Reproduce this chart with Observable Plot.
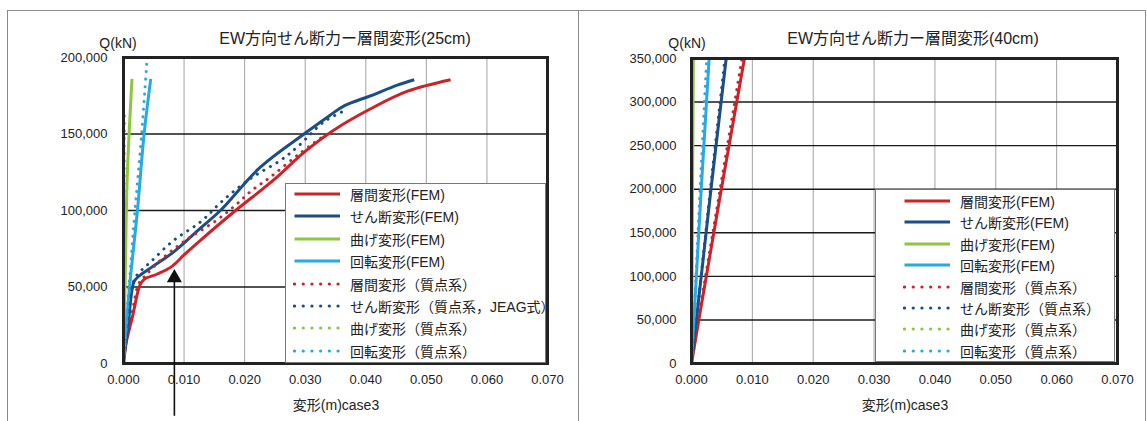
<!DOCTYPE html>
<html><head><meta charset="utf-8">
<script src="https://cdn.jsdelivr.net/npm/d3@7"></script>
<script src="https://cdn.jsdelivr.net/npm/@observablehq/plot@0.6"></script>
<style>
body{margin:0;background:#fff;}
#root{position:relative;width:1147px;height:421px;overflow:hidden;font-family:"Liberation Sans","Noto Sans CJK JP",sans-serif;color:#222;background:#fff;}
.abs{position:absolute;}
.t{position:absolute;transform:translate(-50%,-50%);white-space:nowrap;}
.legend{position:absolute;background:#fff;border:1px solid #777;box-sizing:border-box;}
.row{position:absolute;left:0;display:flex;align-items:center;white-space:nowrap;font-size:14px;}
</style></head><body><div id="root"></div>
<script>
// ---------- data ----------
const seriesNames25 = ["層間変形(FEM)","せん断変形(FEM)","曲げ変形(FEM)","回転変形(FEM)","層間変形（質点系）","せん断変形（質点系，JEAG式）","曲げ変形（質点系）","回転変形（質点系）"];
const seriesNames40 = ["層間変形(FEM)","せん断変形(FEM)","曲げ変形(FEM)","回転変形(FEM)","層間変形（質点系）","せん断変形（質点系）","曲げ変形（質点系）","回転変形（質点系）"];
const seriesColors = ["#cc2229","#1b4e86","#8dc63f","#29a9e1","#cc2229","#1b4e86","#8dc63f","#29a9e1"];
const seriesDotted = [false,false,false,false,true,true,true,true];

const xTicks = [0,0.01,0.02,0.03,0.04,0.05,0.06,0.07];
const yTicks25 = [0,50000,100000,150000,200000];
const yTicks40 = [0,50000,100000,150000,200000,250000,300000,350000];

// 25cm case  [deformation m, Q kN]
const story25FEM = [[0,0],[0.0003,11000],[0.0015,31000],[0.0027,51000],[0.0034,55000],[0.0056,58500],[0.0080,63500],[0.0100,71000],[0.0127,80500],[0.0182,99000],[0.0248,120000],[0.0298,138000],[0.0347,152500],[0.0408,166500],[0.0469,178000],[0.0540,185500]];
const shear25FEM = [[0,0],[0.0008,26000],[0.0014,48000],[0.0018,54000],[0.0030,58500],[0.0045,62500],[0.0083,73000],[0.0127,88500],[0.0160,100000],[0.0225,128000],[0.0298,150000],[0.0340,162000],[0.0365,168500],[0.0408,175000],[0.0452,182000],[0.0480,185500]];
const bend25FEM = [[0,0],[0.0003,60000],[0.0006,120000],[0.0014,186000]];
const rot25FEM = [[0,0],[0.0010,50000],[0.0023,100000],[0.0034,150000],[0.0045,186000]];
const story25Mass = [[0,0],[0.0005,15000],[0.0015,35000],[0.0025,52000],[0.0035,57000],[0.0061,67500],[0.0099,79500],[0.0155,94000],[0.0185,103500],[0.0210,112500],[0.0243,122000],[0.0290,137000],[0.0330,148500]];
const shear25Mass = [[0,0],[0.0005,18000],[0.0012,45000],[0.0020,56500],[0.0045,66500],[0.0083,80500],[0.0127,92500],[0.0164,106500],[0.0210,121000],[0.0260,133000],[0.0287,141500],[0.0331,158000],[0.0364,165000]];
const bend25Mass = [[0,0],[0.0002,165000]];
const rot25Mass = [[0,0],[0.0009,50000],[0.0019,100000],[0.0030,150000],[0.0039,200000]];

// 40cm case
const story40FEM = [[0,0],[0.0012,50000],[0.0049,200000],[0.0087,350000]];
const shear40FEM = [[0,0],[0.0008,50000],[0.0032,200000],[0.0057,350000]];
const bend40FEM = [[0,0],[0.0003,350000]];
const rot40FEM = [[0,0],[0.0004,50000],[0.0016,200000],[0.0029,350000]];
const story40Mass = [[0,0],[0.0011,50000],[0.0047,200000],[0.0083,350000]];
const shear40Mass = [[0,0],[0.0008,50000],[0.0031,200000],[0.0055,350000]];
const bend40Mass = [[0,0],[0.0002,350000]];
const rot40Mass = [[0,0],[0.0004,50000],[0.0014,200000],[0.0025,350000]];

// annotation arrow (25cm chart)
const arrowX = 0.0084;
const arrowTail = -34500;
const arrowHead = 56000;

// ---------- drawing ----------
const root = document.getElementById("root");
const FONT = '"Liberation Sans","Noto Sans CJK JP",sans-serif';

function seriesMarks(list, curve){
  return list.map((data,i)=>Plot.line(data,{x:d=>d[0],y:d=>d[1],stroke:seriesColors[i],strokeWidth:3,
      strokeDasharray: seriesDotted[i] ? "0.1 7.4" : null,
      strokeLinecap: seriesDotted[i] ? "round" : "butt", curve}));
}

function makeChart(o){
  const chart = Plot.plot({
    width:o.width, height:421,
    marginLeft:o.ml, marginRight:o.mr, marginTop:o.mt, marginBottom:421-o.bottom,
    x:{domain:[0,0.07]},
    y:{domain:o.ydomain},
    style:{fontSize:"13px",fontFamily:FONT,background:"transparent",overflow:"visible",color:"#222"},
    marks:[
      Plot.gridX(xTicks,{stroke:"#a3a3a3",strokeOpacity:1,strokeWidth:1}),
      Plot.gridY(o.yticks,{stroke:"#1a1a1a",strokeOpacity:1,strokeWidth:1.4}),
      Plot.axisX(xTicks,{tickSize:0,tickPadding:11,tickFormat:d3.format(".3f"),label:null,fontSize:13}),
      Plot.axisY(o.yticks,{tickSize:0,tickPadding:o.ypad,tickFormat:d3.format(","),label:null,fontSize:13}),
      ...seriesMarks(o.series, o.curve),
      Plot.frame({stroke:"#222",strokeWidth:3}),
      ...(o.extra||[])
    ]
  });
  chart.style.position="absolute";
  chart.style.left=o.left+"px";
  chart.style.top="0px";
  root.appendChild(chart);
}

function text(s,x,y,size){
  const d=document.createElement("div");
  d.className="t"; d.textContent=s;
  d.style.left=x+"px"; d.style.top=y+"px"; d.style.fontSize=size+"px";
  root.appendChild(d);
}

function legend(names,box){
  const L=document.createElement("div");
  L.className="legend";
  L.style.left=box.x+"px"; L.style.top=box.y+"px";
  L.style.width=box.w+"px"; L.style.height=box.h+"px";
  names.forEach((n,i)=>{
    const r=document.createElement("div");
    r.className="row";
    r.style.top=(box.first+i*box.step-11)+"px";
    r.style.height="22px";
    r.style.left=box.sx+"px";
    const svg=d3.create("svg").attr("width",box.sw+5).attr("height",10).style("margin-right","5px");
    svg.append("line").attr("x1",1.5).attr("x2",box.sw).attr("y1",5).attr("y2",5)
      .attr("stroke",seriesColors[i]).attr("stroke-width",3.2)
      .attr("stroke-dasharray",seriesDotted[i]?"0.1 8.6":null)
      .attr("stroke-linecap",seriesDotted[i]?"round":"butt");
    r.appendChild(svg.node());
    const s=document.createElement("span"); s.textContent=n; r.appendChild(s);
    L.appendChild(r);
  });
  root.appendChild(L);
}

// outer frames
const f1=document.createElement("div");
f1.className="abs"; f1.style.cssText+="left:7px;top:10px;width:570px;height:411px;border-left:1px solid #8a8a8a;border-top:1px solid #8a8a8a;border-right:1px solid #8a8a8a;";
root.appendChild(f1);
const f2=document.createElement("div");
f2.className="abs"; f2.style.cssText+="left:577px;top:10px;width:568px;height:411px;border-top:1px solid #8a8a8a;border-right:1px solid #8a8a8a;";
root.appendChild(f2);

makeChart({left:0,width:577,ml:123,mr:30,mt:57,bottom:363,ydomain:[0,200000],yticks:yTicks25,ypad:16,curve:"catmull-rom",
  series:[story25FEM,shear25FEM,bend25FEM,rot25FEM,story25Mass,shear25Mass,bend25Mass,rot25Mass],
  extra:[
    Plot.ruleX([arrowX],{y1:arrowTail,y2:arrowHead,stroke:"#111",strokeWidth:1.6}),
    Plot.dot([[arrowX,arrowHead]],{x:d=>d[0],y:d=>d[1],symbol:"triangle",r:5.6,fill:"#111",stroke:"none"})
  ]});
makeChart({left:577,width:568,ml:114,mr:28,mt:58,bottom:363,ydomain:[0,350000],yticks:yTicks40,ypad:15,curve:"linear",
  series:[story40FEM,shear40FEM,bend40FEM,rot40FEM,story40Mass,shear40Mass,bend40Mass,rot40Mass]});

text("EW方向せん断力ー層間変形(25cm)",345,37,16);
text("Q(kN)",118,43,14);
text("変形(m)case3",336,404,14);
text("EW方向せん断力ー層間変形(40cm)",913,37,16);
text("Q(kN)",687,43,14);
text("変形(m)case3",905,404,14);

legend(seriesNames25,{x:285,y:183,w:261,h:180,first:10,step:22.4,sx:7,sw:47});
legend(seriesNames40,{x:875,y:189,w:240,h:173,first:11,step:21.4,sx:27,sw:47});
</script></body></html>
